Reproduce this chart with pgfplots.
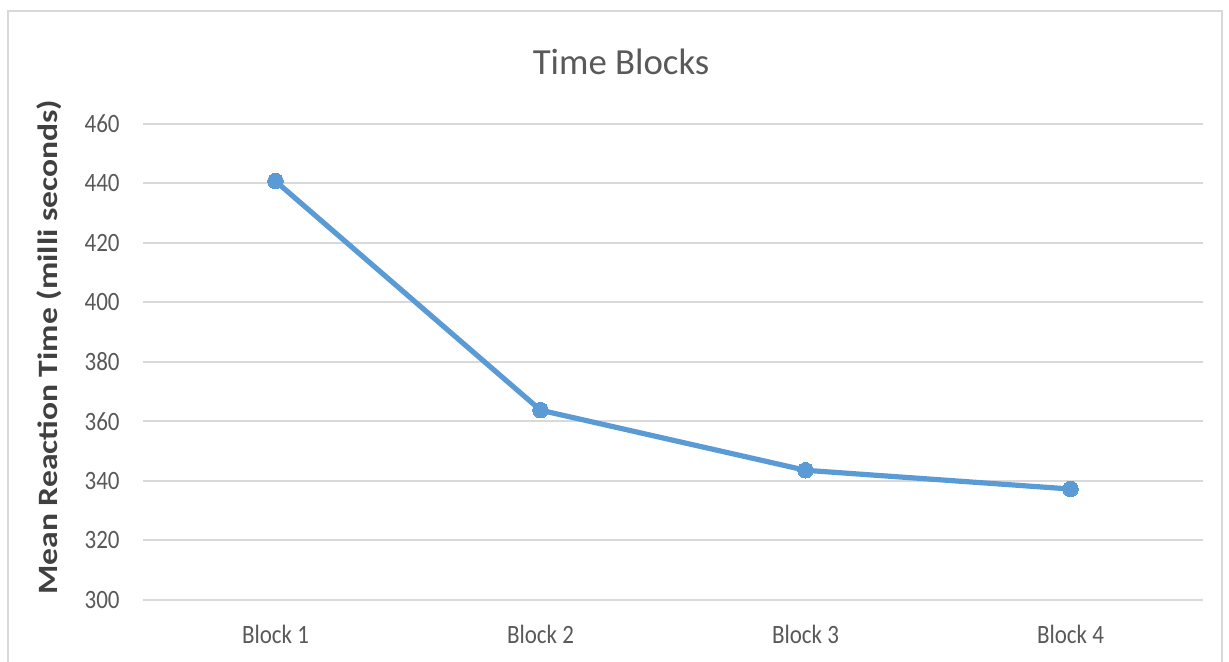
\documentclass[border=0pt]{standalone}
\usepackage{pgfplots}
\pgfplotsset{compat=1.18}
\usepackage{fontspec}
\setmainfont{Carlito}
\definecolor{lineblue}{HTML}{5B9BD5}
\definecolor{gridgray}{HTML}{D9D9D9}
\definecolor{txtgray}{HTML}{595959}
\definecolor{labgray}{HTML}{404040}
\begin{document}
\begin{tikzpicture}
\useasboundingbox (-71.5pt,-31pt) rectangle (543pt,300pt);
\begin{axis}[
  scale only axis,
  width=530pt, height=238pt,
  xmin=0.5, xmax=4.5,
  ymin=300, ymax=460,
  ytick={300,320,...,460},
  xtick={1,2,3,4},
  xticklabels={\scalebox{1}[1.15]{Block 1},\scalebox{1}[1.15]{Block 2},\scalebox{1}[1.15]{Block 3},\scalebox{1}[1.15]{Block 4}},
  yticklabel={\scalebox{1}[1.15]{\pgfmathprintnumber{\tick}}},
  axis line style={draw=none},
  tick style={draw=none},
  ymajorgrids,
  major grid style={gridgray, line width=1pt},
  /pgf/number format/assume math mode=true,
  ticklabel style={font=\fontsize{11.5}{13}\selectfont, text=txtgray},
  yticklabel style={anchor=east, inner sep=0pt, xshift=-11.5pt},
  xticklabel style={anchor=center, inner sep=0pt, yshift=-17pt},
  title={Time Blocks},
  title style={at={(axis description cs:0.451,1.105)}, anchor=center, font=\fontsize{18.4}{22}\selectfont, text=txtgray},
  ylabel={\scalebox{1.2}[1]{Mean Reaction Time (milli seconds)}},
  ylabel style={at={(axis description cs:-0.0887,0.531)}, anchor=center, font=\bfseries\fontsize{14}{16}\selectfont, text=labgray},
  clip=false,
]
\addplot[lineblue, line width=2.6pt, mark=*, mark size=3.9pt, mark options={fill=lineblue, draw=lineblue, line width=0pt}]
  coordinates {(1,440.8) (2,363.8) (3,343.6) (4,337.3)};
\end{axis}
\draw[gridgray, line width=1.2pt] (-67.5pt,-40pt) -- (-67.5pt,294.5pt) -- (539.5pt,294.5pt) -- (539.5pt,-40pt);
\end{tikzpicture}
\end{document}
